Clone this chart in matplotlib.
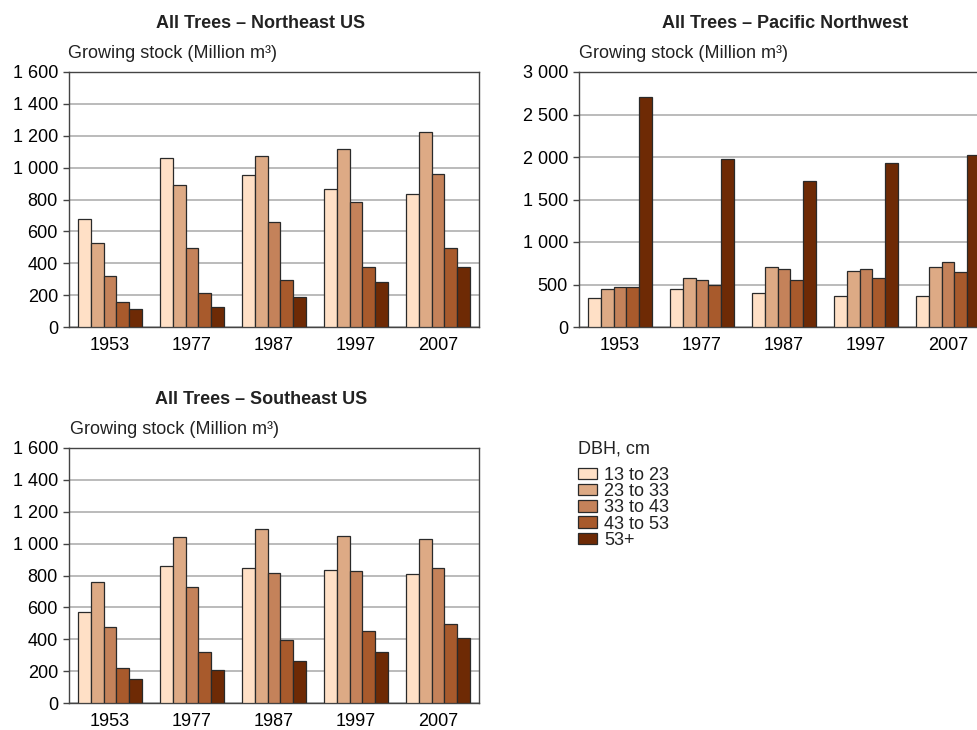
import numpy as np
import matplotlib.pyplot as plt
from matplotlib.ticker import FuncFormatter

plt.rcParams['font.family'] = ['Liberation Sans', 'DejaVu Sans']
plt.rcParams['font.size'] = 13
plt.rcParams['text.color'] = '#222222'

years = ['1953', '1977', '1987', '1997', '2007']
classes = ['13 to 23', '23 to 33', '33 to 43', '43 to 53', '53+']
colors = ['#FFE0C6', '#DDAA85', '#C4825A', '#A85A2C', '#6E2A05']

# growing stock per DBH class (rows) and year (columns), million m3
northeast = [
    [680, 1063, 952, 865, 837],
    [528, 890, 1071, 1119, 1222],
    [317, 495, 660, 783, 961],
    [155, 211, 294, 378, 495],
    [111, 123, 190, 282, 378],
]
pacific_nw = [
    [337, 446, 400, 368, 364],
    [446, 572, 705, 662, 705],
    [470, 556, 682, 678, 760],
    [470, 497, 556, 576, 646],
    [2703, 1974, 1720, 1935, 2021],
]
southeast = [
    [568, 858, 849, 832, 807],
    [757, 1040, 1092, 1046, 1027],
    [480, 726, 814, 828, 845],
    [220, 323, 398, 449, 495],
    [153, 210, 262, 321, 409],
]

W, H = 977, 730
fig = plt.figure(figsize=(W / 100, H / 100), dpi=100)


def px_axes(left, top, right, bottom):
    return fig.add_axes([left / W, (H - bottom) / H, (right - left) / W, (bottom - top) / H])


def thousands(v, pos):
    return f'{int(v):,}'.replace(',', ' ')


def draw_panel(ax, data, ymax, step):
    x = np.arange(len(years))
    bw = 0.155
    bars = []
    for i, vals in enumerate(data):
        b = ax.bar(x + (i - 2) * bw, vals, bw, color=colors[i],
                   edgecolor='#2a2a2a', linewidth=0.9, label=classes[i], zorder=3)
        bars.append(b)
    ax.set_xlim(-0.5, len(years) - 0.5)
    ax.set_ylim(0, ymax)
    ax.set_yticks(np.arange(0, ymax + 1, step))
    ax.yaxis.set_major_formatter(FuncFormatter(thousands))
    ax.set_xticks(x)
    ax.set_xticklabels(years)
    ax.yaxis.grid(True, color='#b5b5b5', linewidth=1.3, zorder=0)
    ax.set_axisbelow(True)
    ax.tick_params(axis='x', length=0, pad=7, labelsize=13)
    ax.tick_params(axis='y', length=4, width=1, color='#444444', pad=4, labelsize=13)
    for s in ax.spines.values():
        s.set_color('#444444')
        s.set_linewidth(1)
    return bars


ax1 = px_axes(69, 72, 479, 327)
bars = draw_panel(ax1, northeast, 1600, 200)
ax2 = px_axes(579, 72, 989, 327)
draw_panel(ax2, pacific_nw, 3000, 500)
ax3 = px_axes(69, 448, 479, 703)
draw_panel(ax3, southeast, 1600, 200)

titles = [('All Trees – Northeast US', 261, 24),
          ('All Trees – Pacific Northwest', 785, 24),
          ('All Trees – Southeast US', 261, 400)]
for t, tx, ty in titles:
    fig.text(tx / W, (H - ty) / H, t, ha='center', va='center', fontweight='bold', fontsize=13)

ylabels = [(68, 53), (579, 53), (70, 429)]
for lx, ly in ylabels:
    fig.text(lx / W, (H - ly) / H, 'Growing stock (Million m³)', ha='left', va='center', fontsize=13)

leg = fig.legend(handles=bars, labels=classes, loc='upper left',
                 bbox_to_anchor=(578 / W, (H - 440) / H), frameon=False,
                 title='DBH, cm', alignment='left', fontsize=13, title_fontsize=13,
                 borderpad=0, borderaxespad=0, handlelength=1.05, handleheight=0.62,
                 handletextpad=0.4, labelspacing=-0.04)
leg._legend_box.sep = 7

fig.savefig('out.png', dpi=100)
